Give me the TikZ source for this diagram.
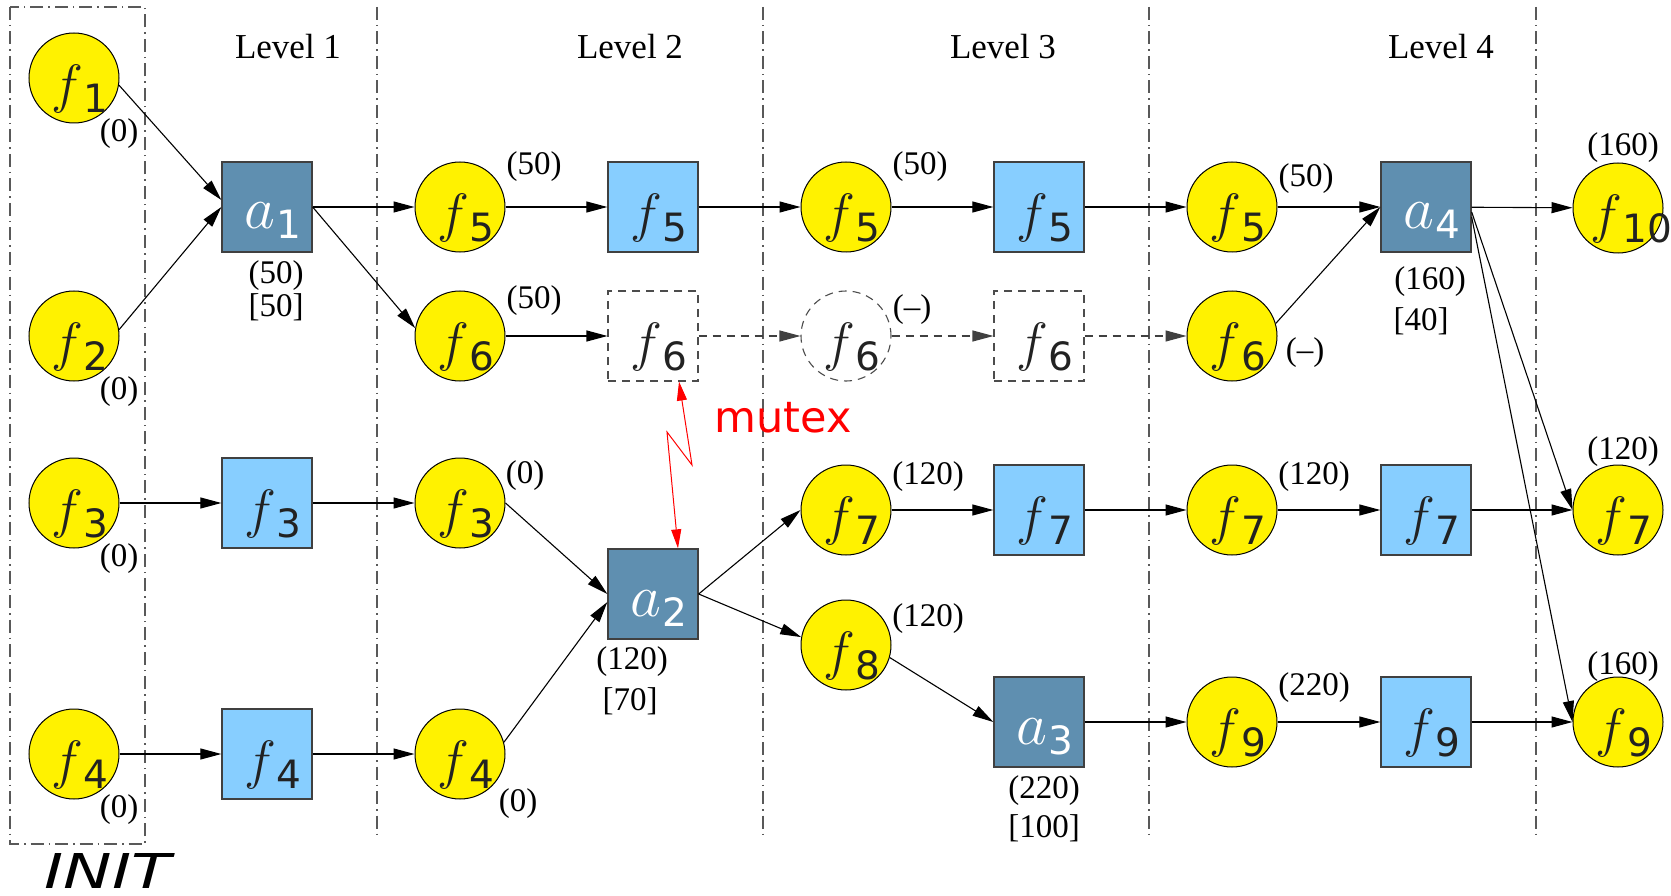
\RequirePackage{fix-cm}
\documentclass[tikz,border=0pt]{standalone}
\usepackage{graphicx}
\usepackage{fontspec}
\setmainfont{Liberation Serif}
\newfontfamily\dvfont{DejaVu Sans}
\usetikzlibrary{arrows.meta}
\definecolor{lightb}{HTML}{87CEFF}
\definecolor{darkb}{HTML}{5F8FB0}
\definecolor{fgray}{HTML}{222222}
\newcommand\subsc[1]{\raisebox{-10pt}{\fontsize{39}{40}\selectfont\dvfont #1}}
\newcommand\flab[2][-23pt]{\makebox[0pt][l]{\hspace{#1}\fontsize{54}{60}\selectfont$f$\kern1pt\subsc{#2}}}
\newcommand\alab[1]{\makebox[0pt][l]{\hspace{-23pt}\fontsize{60}{60}\selectfont$a$\kern2pt\subsc{#1}}}
\tikzset{
  fcirc/.style={circle, draw=black, line width=1pt, fill=yellow, minimum size=90pt, inner sep=0pt, text=fgray, text height=49pt, text depth=0pt},
  lbox/.style={rectangle, draw=black!75, line width=1.3pt, fill=lightb, minimum size=90pt, inner sep=0pt, text=fgray, text height=49pt, text depth=0pt},
  dbox/.style={lbox, fill=darkb, text=white, text height=44pt},
  dashbox/.style={lbox, fill=none, draw=black!70, line width=1.1pt, dash pattern=on 8pt off 6pt},
  dashcirc/.style={fcirc, fill=none, draw=black!70, line width=1.1pt, dash pattern=on 8pt off 6pt},
  arr/.style={-{Triangle[length=21pt,width=11pt]}, line width=1.1pt},
  dasharr/.style={arr, draw=black!75, dash pattern=on 8pt off 6pt},
  divline/.style={draw=black!65, line width=1.2pt, dash pattern=on 13pt off 5pt on 1.5pt off 5pt},
  num/.style={font=\fontsize{33}{36}\selectfont, inner sep=0pt},
  lev/.style={font=\fontsize{35}{40}\selectfont, inner sep=0pt, anchor=base},
}
\begin{document}
\begin{tikzpicture}[x=1pt,y=-1pt]
\useasboundingbox (0,0) rectangle (1671,896);
% dividers
\draw[divline] (10,7) rectangle (145,844);
\foreach \xx in {377,763,1149,1536} \draw[divline] (\xx,7) -- (\xx,837);
% column 0
\node[fcirc] (f1) at (74,78) {\flab{1}};
\node[fcirc] (f2) at (74,336) {\flab{2}};
\node[fcirc] (f3) at (74,503) {\flab{3}};
\node[fcirc] (f4) at (74,754) {\flab{4}};
% column 1
\node[dbox] (a1) at (267,207) {\alab{1}};
\node[lbox] (bf3) at (267,503) {\flab{3}};
\node[lbox] (bf4) at (267,754) {\flab{4}};
% column 2
\node[fcirc] (f5b) at (460,207) {\flab{5}};
\node[fcirc] (f6b) at (460,336) {\flab{6}};
\node[fcirc] (f3b) at (460,503) {\flab{3}};
\node[fcirc] (f4b) at (460,754) {\flab{4}};
% column 3
\node[lbox] (bf5) at (653,207) {\flab{5}};
\node[dashbox] (bf6) at (653,336) {\flab{6}};
\node[dbox] (a2) at (653,594) {\alab{2}};
% column 4
\node[fcirc] (f5c) at (846,207) {\flab{5}};
\node[dashcirc] (f6c) at (846,336) {\flab{6}};
\node[fcirc] (f7c) at (846,510) {\flab{7}};
\node[fcirc] (f8) at (846,645) {\flab{8}};
% column 5
\node[lbox] (bf5c) at (1039,207) {\flab{5}};
\node[dashbox] (bf6c) at (1039,336) {\flab{6}};
\node[lbox] (bf7) at (1039,510) {\flab{7}};
\node[dbox] (a3) at (1039,722) {\alab{3}};
% column 6
\node[fcirc] (f5d) at (1232,207) {\flab{5}};
\node[fcirc] (f6d) at (1232,336) {\flab{6}};
\node[fcirc] (f7d) at (1232,510) {\flab{7}};
\node[fcirc] (f9d) at (1232,722) {\flab{9}};
% column 7
\node[dbox] (a4) at (1426,207) {\alab{4}};
\node[lbox] (bf7d) at (1426,510) {\flab{7}};
\node[lbox] (bf9) at (1426,722) {\flab{9}};
% column 8
\node[fcirc] (f10) at (1618,208) {\flab[-28pt]{10}};
\node[fcirc] (f7e) at (1618,510) {\flab{7}};
\node[fcirc] (f9e) at (1618,722) {\flab{9}};
% connectors
\draw[arr] (f1.-9) -- ([yshift=7pt]a1.west);
\draw[arr] (f2.8) -- (a1.west);
\draw[arr] (a1) -- (f5b);
\draw[arr] (a1.east) -- (f6b.170);
\draw[arr] (f5b) -- (bf5);
\draw[arr] (f6b) -- (bf6);
\draw[arr] (bf5) -- (f5c);
\draw[dasharr] (bf6) -- (f6c);
\draw[arr] (f5c) -- (bf5c);
\draw[dasharr] (f6c) -- (bf6c);
\draw[arr] (bf5c) -- (f5d);
\draw[dasharr] (bf6c) -- (f6d);
\draw[arr] (f5d) -- (a4);
\draw[arr] (f6d.16) -- (a4.west);
\draw[arr] (a4) -- (f10);
\draw[arr] ([yshift=-5pt]a4.east) -- (f7e.west);
\draw[arr] ([yshift=-10pt]a4.east) -- (f9e.west);
\draw[arr] (f3) -- (bf3);
\draw[arr] (bf3) -- (f3b);
\draw[arr] (f3b.east) -- (a2.west);
\draw[arr] (f4) -- (bf4);
\draw[arr] (bf4) -- (f4b);
\draw[arr] (f4b.15) -- ([yshift=-8pt]a2.west);
\draw[arr] (a2.east) -- (f7c.west);
\draw[arr] (a2.east) -- (f8.170);
\draw[arr] (f7c) -- (bf7);
\draw[arr] (bf7) -- (f7d);
\draw[arr] (f7d) -- (bf7d);
\draw[arr] (bf7d) -- (f7e);
\draw[arr] (f8.-16) -- (a3.west);
\draw[arr] (a3) -- (f9d);
\draw[arr] (f9d) -- (bf9);
\draw[arr] (bf9) -- (f9e);
% mutex
\coordinate (mz1) at (692,465);
\coordinate (mz2) at (667,432);
\draw[red, line width=1pt, {Triangle[length=19pt,width=10pt]}-{Triangle[length=19pt,width=10pt]}] ([xshift=26pt]bf6.south) -- (mz1) -- (mz2) -- ([xshift=25pt]a2.north);
\node[red, inner sep=0pt, anchor=base, font=\dvfont\fontsize{43}{48}\selectfont] (mtx) at (783,432) {mutex};
% numbers
\node[num] (n1) at (119,134) {(0)};
\node[num] (n2) at (119,392) {(0)};
\node[num] (n3) at (119,559) {(0)};
\node[num] (n4) at (119,810) {(0)};
\node[num] (n5) at (276,276) {(50)};
\node[num] (n6) at (276,307) {[50]};
\node[num] (n7) at (534,167) {(50)};
\node[num] (n8) at (534,301) {(50)};
\node[num] (n9) at (525,476) {(0)};
\node[num] (n10) at (518,804) {(0)};
\node[num] (n11) at (632,662) {(120)};
\node[num] (n12) at (630,701) {[70]};
\node[num] (n13) at (920,167) {(50)};
\node[num] (n14) at (912,310) {(–)};
\node[num] (n15) at (928,477) {(120)};
\node[num] (n16) at (928,619) {(120)};
\node[num] (n17) at (1044,791) {(220)};
\node[num] (n18) at (1044,828) {[100]};
\node[num] (n19) at (1306,179) {(50)};
\node[num] (n20) at (1305,353) {(–)};
\node[num] (n21) at (1314,477) {(120)};
\node[num] (n22) at (1314,688) {(220)};
\node[num] (n23) at (1430,282) {(160)};
\node[num] (n24) at (1421,321) {[40]};
\node[num] (n25) at (1623,148) {(160)};
\node[num] (n26) at (1623,452) {(120)};
\node[num] (n27) at (1623,667) {(160)};
% levels
\node[lev] (lv1) at (288,59) {Level 1};
\node[lev] (lv2) at (630,59) {Level 2};
\node[lev] (lv3) at (1003,59) {Level 3};
\node[lev] (lv4) at (1441,59) {Level 4};
\node[inner sep=0pt, anchor=base, font=\dvfont\itshape\fontsize{48}{52}\selectfont] (init) at (108,888) {\scalebox{1.35}[1]{INIT}};
\end{tikzpicture}
\end{document}
